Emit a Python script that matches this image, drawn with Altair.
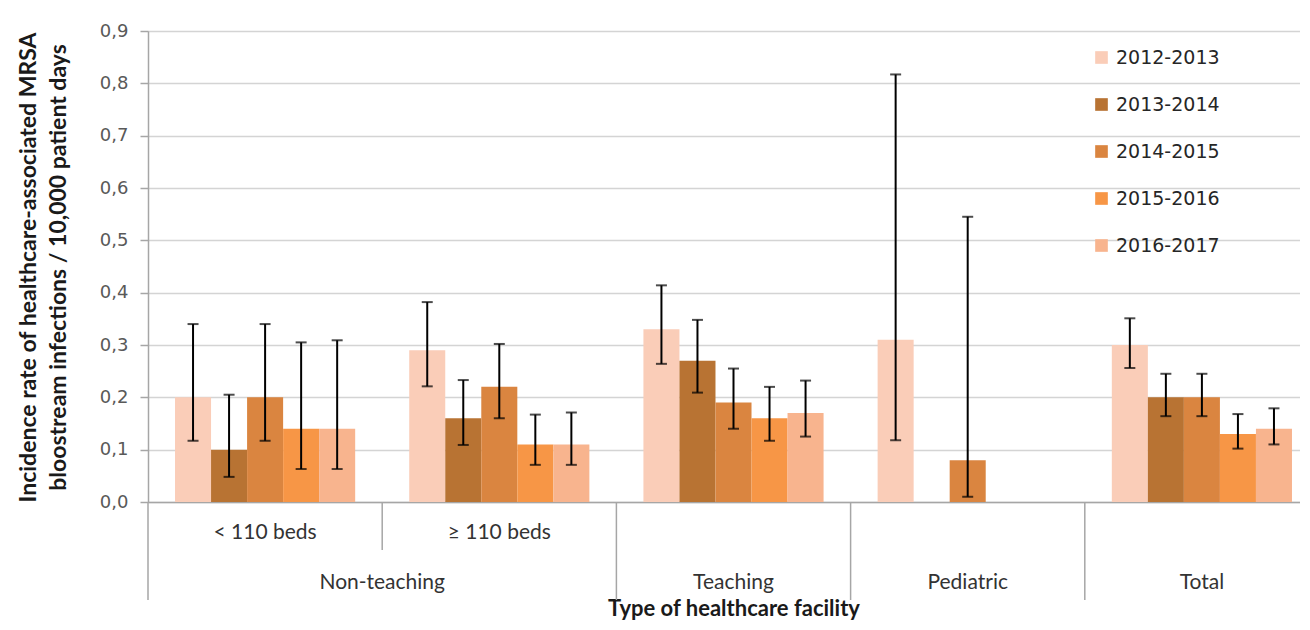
import altair as alt
import pandas as pd

categories = ["< 110 beds", "≥ 110 beds", "Teaching", "Pediatric", "Total"]
seasons = ["2012-2013", "2013-2014", "2014-2015", "2015-2016", "2016-2017"]
colors = ["#FACDB8", "#B87333", "#DA8540", "#F79646", "#F8B48E"]

rate_2012_2013 = [0.20, 0.29, 0.33, 0.31, 0.30]
rate_2013_2014 = [0.10, 0.16, 0.27, None, 0.20]
rate_2014_2015 = [0.20, 0.22, 0.19, 0.08, 0.20]
rate_2015_2016 = [0.14, 0.11, 0.16, None, 0.13]
rate_2016_2017 = [0.14, 0.11, 0.17, None, 0.14]

low_2012_2013 = [0.117, 0.221, 0.264, 0.118, 0.256]
low_2013_2014 = [0.048, 0.109, 0.209, None, 0.164]
low_2014_2015 = [0.117, 0.160, 0.140, 0.010, 0.164]
low_2015_2016 = [0.063, 0.071, 0.117, None, 0.102]
low_2016_2017 = [0.063, 0.071, 0.125, None, 0.110]

high_2012_2013 = [0.340, 0.382, 0.414, 0.817, 0.351]
high_2013_2014 = [0.205, 0.233, 0.348, None, 0.245]
high_2014_2015 = [0.340, 0.302, 0.255, 0.545, 0.245]
high_2015_2016 = [0.305, 0.167, 0.220, None, 0.168]
high_2016_2017 = [0.309, 0.171, 0.232, None, 0.179]

subcategories = ["< 110 beds", "≥ 110 beds"]
group_labels = ["Non-teaching", "Teaching", "Pediatric", "Total"]
group_anchor = ["≥ 110 beds", "Teaching", "Pediatric", "Total"]
long_separators = ["< 110 beds", "Teaching", "Pediatric", "Total"]
short_separators = ["≥ 110 beds"]
y_ticks = [0.0, 0.1, 0.2, 0.3, 0.4, 0.5, 0.6, 0.7, 0.8, 0.9]

rates = [rate_2012_2013, rate_2013_2014, rate_2014_2015, rate_2015_2016, rate_2016_2017]
lows = [low_2012_2013, low_2013_2014, low_2014_2015, low_2015_2016, low_2016_2017]
highs = [high_2012_2013, high_2013_2014, high_2014_2015, high_2015_2016, high_2016_2017]

rows = []
for s, rr, ll, hh in zip(seasons, rates, lows, highs):
    for c, v, lo, hi in zip(categories, rr, ll, hh):
        if v is None:
            continue
        rows.append({"cat": c, "season": s, "rate": v, "lo": lo, "hi": hi})
df = pd.DataFrame(rows)

W, H = 1152, 471
TFONT = "DejaVu Sans"
LFONT = "Lato"

xscale = alt.Scale(domain=categories, range=[0, 1171], paddingInner=0, paddingOuter=0)
xoff = alt.XOffset("season:N", sort=seasons,
                   scale=alt.Scale(domain=seasons, paddingInner=0, paddingOuter=0.75))
yscale = alt.Scale(domain=[0, 0.9], nice=False, zero=True)

x_enc = alt.X("cat:N", sort=categories, scale=xscale,
              axis=alt.Axis(labels=False, ticks=False, domainColor="#a6a6a6", domainWidth=1.5,
                            title="Type of healthcare facility", titleFont=LFONT,
                            titleFontSize=22, titleFontWeight="bold", titleColor="#1a1a1a",
                            titleY=113, titleBaseline="alphabetic"))
y_enc = alt.Y("rate:Q", scale=yscale,
              axis=alt.Axis(values=y_ticks, labelExpr="replace(format(datum.value, '.1f'), '.', ',')",
                            labelFont=TFONT, labelFontSize=18, labelColor="#595959", labelPadding=12,
                            tickColor="#a6a6a6", tickSize=8, tickWidth=1.5,
                            domainColor="#a6a6a6", domainWidth=1.5,
                            gridColor="#d4d4d4", gridWidth=1.5,
                            title=["Incidence rate of healthcare-associated MRSA",
                                   "bloostream infections / 10,000 patient days"],
                            titleFont=LFONT, titleFontSize=23, titleFontWeight="bold",
                            titleColor="#1a1a1a", titleAngle=270, titleAlign="center",
                            titleBaseline="top", titleX=-131, titleY=236, titleLineHeight=30))

bars = alt.Chart(df).mark_bar(strokeWidth=0).encode(
    x=x_enc,
    xOffset=xoff,
    y=y_enc,
    color=alt.Color("season:N", sort=seasons,
                    scale=alt.Scale(domain=seasons, range=colors),
                    legend=alt.Legend(title=None, orient="none", legendX=944, legendY=17,
                                      symbolType="square", symbolSize=160, symbolStrokeWidth=0,
                                      labelFont=TFONT, labelFontSize=19, labelColor="#262626",
                                      rowPadding=27, padding=0, labelOffset=5)),
)

rules = alt.Chart(df).mark_rule(color="black", strokeWidth=2).encode(
    x=alt.X("cat:N", sort=categories, scale=xscale),
    xOffset=xoff,
    y=alt.Y("lo:Q", scale=yscale),
    y2="hi:Q",
)
cap_lo = alt.Chart(df).mark_tick(color="black", thickness=2, size=11).encode(
    x=alt.X("cat:N", sort=categories, scale=xscale),
    xOffset=xoff,
    y=alt.Y("lo:Q", scale=yscale),
)
cap_hi = alt.Chart(df).mark_tick(color="black", thickness=2, size=11).encode(
    x=alt.X("cat:N", sort=categories, scale=xscale),
    xOffset=xoff,
    y=alt.Y("hi:Q", scale=yscale),
)

sub_df = pd.DataFrame({"cat": subcategories})
sub_text = alt.Chart(sub_df).mark_text(font=LFONT, fontSize=21, color="#333333", baseline="middle").encode(
    x=alt.X("cat:N", sort=categories, scale=xscale),
    y=alt.value(502),
    text="cat:N",
)

grp_df = pd.DataFrame({"cat": group_anchor, "label": group_labels})
grp_base = alt.Chart(grp_df).mark_text(font=LFONT, fontSize=21, color="#333333", baseline="middle")
grp_nt = grp_base.transform_filter("datum.label == 'Non-teaching'").encode(
    x=alt.X("cat:N", sort=categories, scale=xscale, bandPosition=0),
    y=alt.value(552),
    text="label:N",
)
grp_rest = grp_base.transform_filter("datum.label != 'Non-teaching'").encode(
    x=alt.X("cat:N", sort=categories, scale=xscale),
    y=alt.value(552),
    text="label:N",
)

long_df = pd.DataFrame({"cat": long_separators})
short_df = pd.DataFrame({"cat": short_separators})
sep_long = alt.Chart(long_df).mark_rule(color="#a6a6a6", strokeWidth=1.5).encode(
    x=alt.X("cat:N", sort=categories, scale=xscale, bandPosition=0),
    y=alt.value(H), y2=alt.value(H + 98),
)
sep_short = alt.Chart(short_df).mark_rule(color="#a6a6a6", strokeWidth=1.5).encode(
    x=alt.X("cat:N", sort=categories, scale=xscale, bandPosition=0),
    y=alt.value(H), y2=alt.value(H + 48),
)

chart = alt.layer(bars, rules, cap_lo, cap_hi, sub_text, grp_nt, grp_rest, sep_long, sep_short).properties(
    width=W, height=H,
    autosize=alt.AutoSizeParams(type="none"),
    padding={"left": 140, "top": 23, "right": 0, "bottom": 120},
).configure_view(stroke=None).configure(background="white")

chart.save("out.html", embed_options={"renderer": "svg", "actions": False})
